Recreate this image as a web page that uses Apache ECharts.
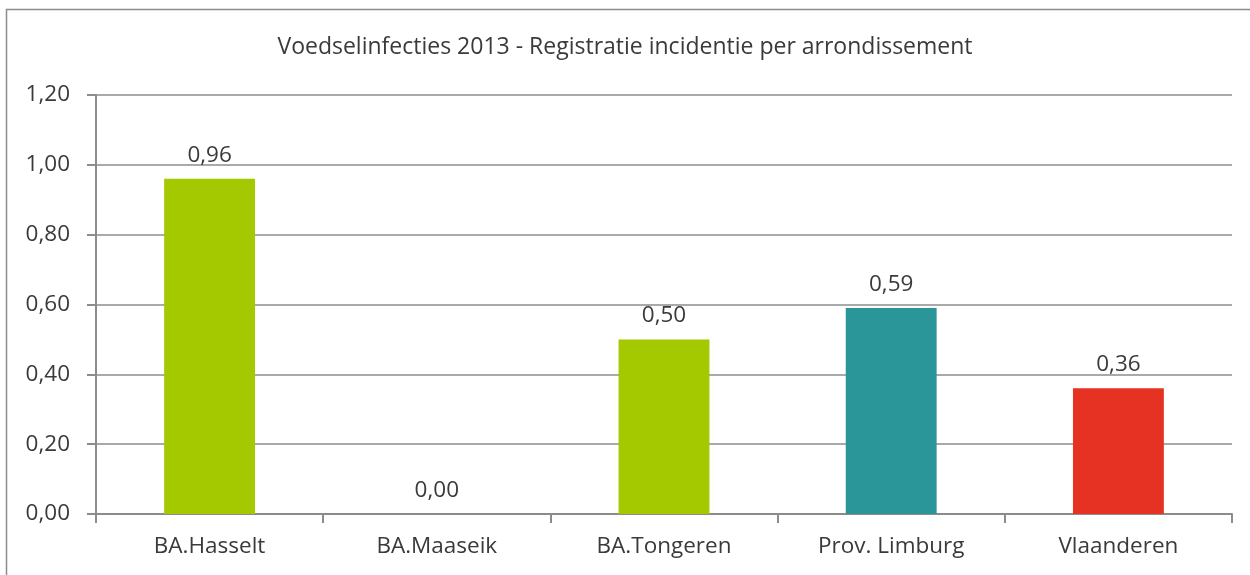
<!DOCTYPE html>
<html>
<head>
<meta charset="utf-8">
<script src="https://cdn.jsdelivr.net/npm/echarts@6/dist/echarts.min.js"></script>
<style>
  html, body { margin: 0; padding: 0; background: #fff; }
  #chart { width: 1250px; height: 575px; }
</style>
</head>
<body>
<div id="chart"></div>
<script>
"use strict";

// Voedselinfecties 2013 - incidentie per arrondissement
const titleText = "Voedselinfecties 2013 - Registratie incidentie per arrondissement";
const categories = ["BA.Hasselt", "BA.Maaseik", "BA.Tongeren", "Prov. Limburg", "Vlaanderen"];
const values = [0.96, 0.00, 0.50, 0.59, 0.36];
const barColors = ["#a4c900", "#a4c900", "#a4c900", "#2b9699", "#e53222"];

const fmt = v => v.toFixed(2).replace(".", ",");
const font = "'Open Sans', 'Liberation Sans', sans-serif";

const chart = echarts.init(document.getElementById("chart"));

chart.setOption({
  animation: false,
  textStyle: { fontFamily: font },
  title: {
    text: titleText,
    left: "center",
    top: 31,
    textStyle: { fontFamily: font, fontSize: 23, fontWeight: "normal", color: "#3a3a3a" }
  },
  graphic: [{
    type: "rect",
    shape: { x: 6.5, y: 9.5, width: 1300, height: 700 },
    style: { fill: "none", stroke: "#8c8c8c", lineWidth: 1.5 },
    silent: true
  }],
  grid: { left: 96, right: 18, top: 95, bottom: 61 },
  xAxis: {
    type: "category",
    data: categories,
    axisLine: { lineStyle: { color: "#8c8c8c", width: 2 } },
    axisTick: { show: true, length: 9, alignWithLabel: false, lineStyle: { color: "#8c8c8c", width: 2 } },
    axisLabel: { color: "#3a3a3a", fontSize: 22.5, margin: 21, fontFamily: font }
  },
  yAxis: {
    type: "value",
    min: 0,
    max: 1.2,
    interval: 0.2,
    axisLine: { show: true, lineStyle: { color: "#8c8c8c", width: 2 } },
    axisTick: { show: true, length: 9, lineStyle: { color: "#8c8c8c", width: 2 } },
    splitLine: { lineStyle: { color: "#8c8c8c", width: 1.5 } },
    axisLabel: { color: "#3a3a3a", fontSize: 22.5, margin: 26, formatter: fmt, fontFamily: font }
  },
  series: [{
    type: "bar",
    barWidth: "40%",
    data: values.map((v, i) => ({ value: v, itemStyle: { color: barColors[i] } })),
    label: {
      show: true,
      position: "top",
      distance: 12,
      color: "#3a3a3a",
      fontSize: 22.5,
      fontFamily: font,
      formatter: p => fmt(p.value)
    }
  }]
});
</script>
</body>
</html>
